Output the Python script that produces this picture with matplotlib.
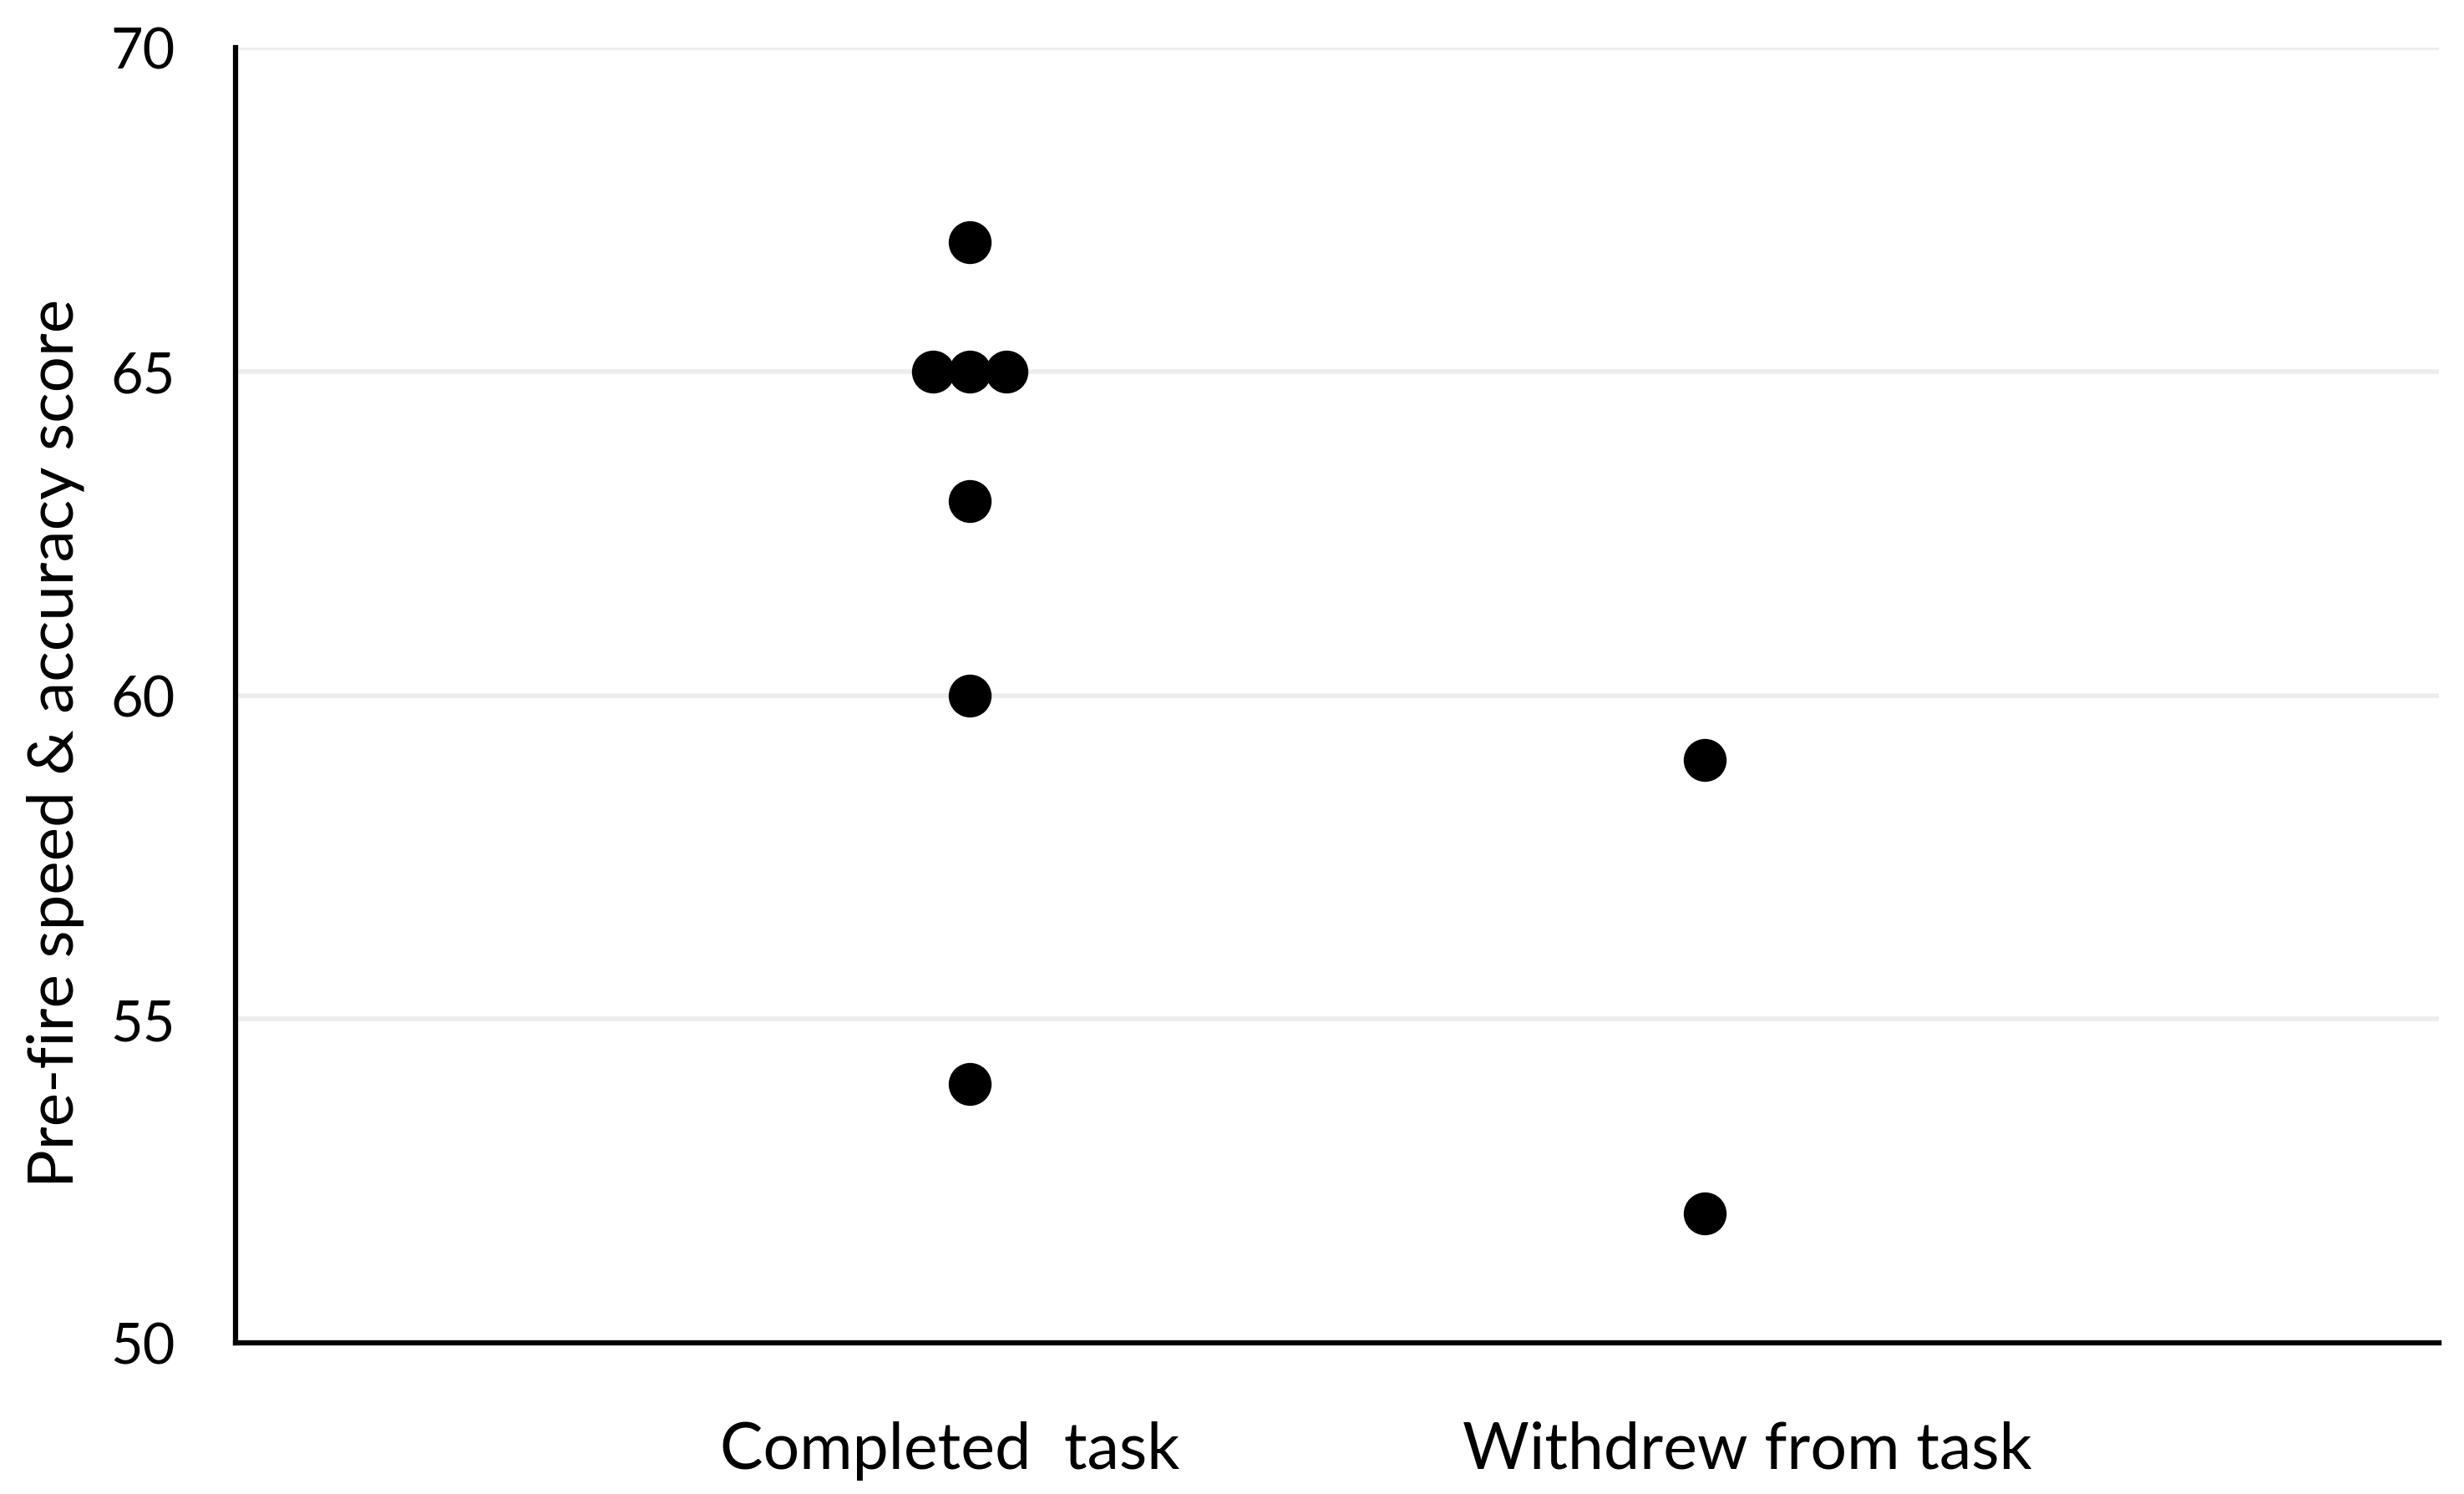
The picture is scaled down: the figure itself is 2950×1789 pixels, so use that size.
import matplotlib
matplotlib.use("Agg")
import matplotlib.pyplot as plt
from matplotlib.transforms import blended_transform_factory

# ---- data ----
categories = ["Completed  task", "Withdrew from task"]
completed_scores = [67, 65, 65, 65, 63, 60, 54]
completed_pos = [1.0, 0.95, 1.0, 1.05, 1.0, 1.0, 1.0]
withdrew_scores = [59, 52]
withdrew_pos = [2.0, 2.0]
y_ticks = [50, 55, 60, 65, 70]
y_label = "Pre-fire speed & accuracy score"

plt.rcParams['font.family'] = ['Lato', 'DejaVu Sans']

W, H = 2950, 1790
fig = plt.figure(figsize=(W / 100, H / 100), dpi=100)
ax = fig.add_axes([282 / W, 1 - 1609 / H, (2920 - 282) / W, (1609 - 58) / H])

ax.set_xlim(0, 3)
ax.set_ylim(50, 70)
ax.set_yticks(y_ticks)
ax.set_xticks([])
ax.yaxis.grid(True, color='#EDEDED', linewidth=4)
ax.set_axisbelow(True)
for s in ['top', 'right']:
    ax.spines[s].set_visible(False)
for s in ['left', 'bottom']:
    ax.spines[s].set_linewidth(4.5)
    ax.spines[s].set_color('black')
ax.tick_params(axis='y', length=0, pad=52, labelsize=48)

ax.plot(completed_pos, completed_scores, 'o', color='black', markersize=37,
        markeredgewidth=0, clip_on=False)
ax.plot(withdrew_pos, withdrew_scores, 'o', color='black', markersize=37,
        markeredgewidth=0, clip_on=False)

trans = blended_transform_factory(ax.transData, fig.transFigure)
label_x = [0.973, 2.058]
for x, lab in zip(label_x, categories):
    ax.text(x, 1 - 1759 / H, lab, transform=trans, ha='center', va='baseline',
            fontsize=55.5)

fig.text(66 / W, 1 - 890 / H, y_label, rotation=90, ha='center', va='center',
         fontsize=55)

fig.savefig("out.png", dpi=100, facecolor='white')
